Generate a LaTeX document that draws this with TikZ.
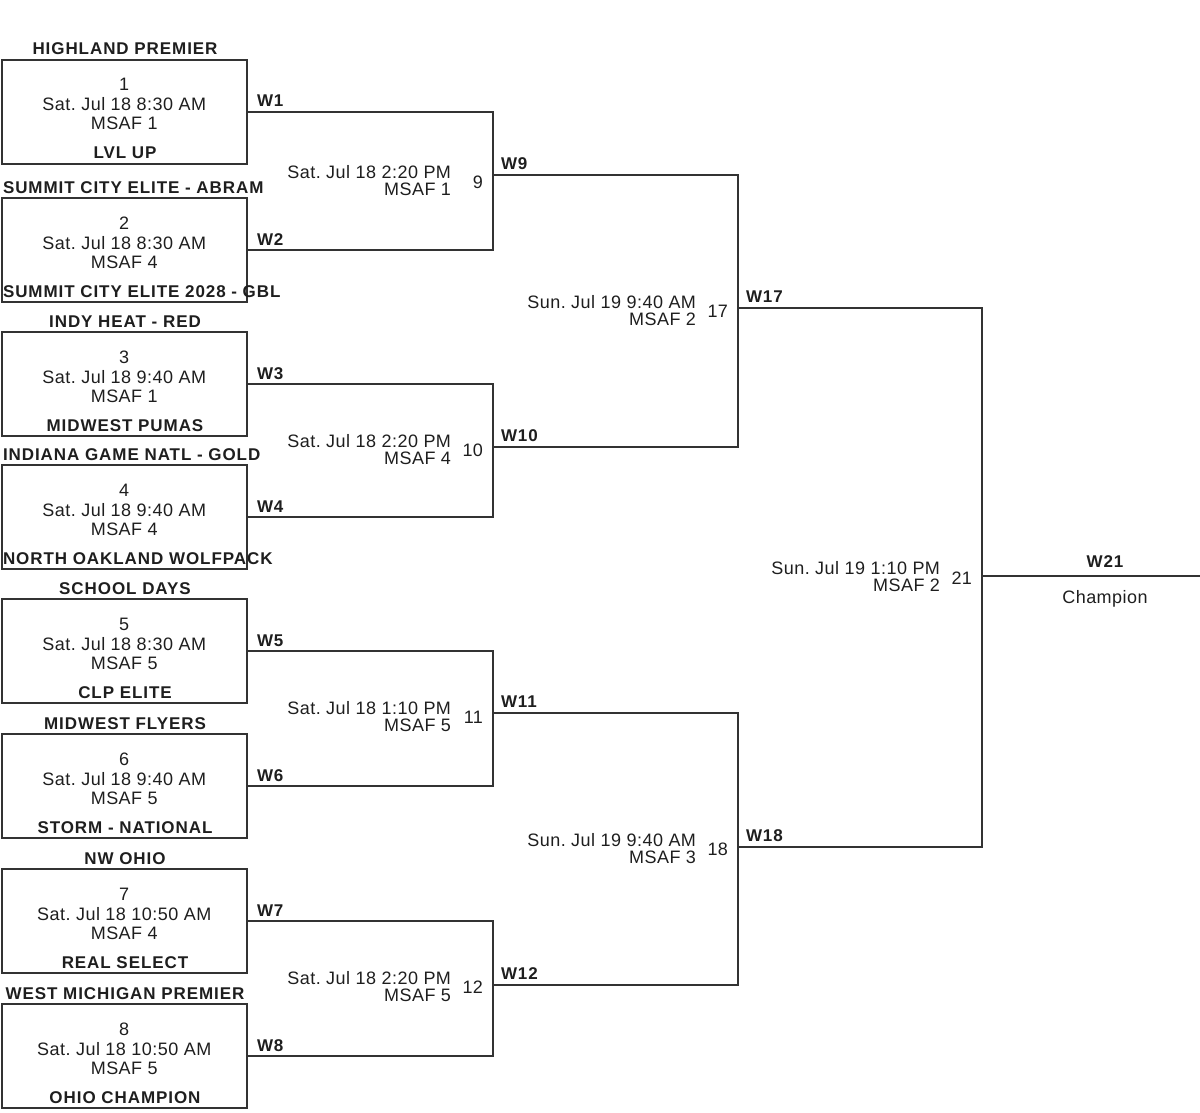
\documentclass[tikz,border=0pt]{standalone}
\usepackage{fontspec}
\setmainfont{Liberation Sans}
\newfontfamily\regfont{Liberation Sans}[LetterSpace=2.6]
\newfontfamily\bldfont{Liberation Sans Bold}[LetterSpace=5.5]
\definecolor{txt}{HTML}{1E1E1E}
\definecolor{ln}{HTML}{333333}
\frenchspacing
\begin{document}
\begin{tikzpicture}[x=1pt,y=-1pt,
  every node/.style={inner sep=0pt, outer sep=0pt, text=txt},
  reg/.style={font=\fontsize{18}{20}\regfont},
  bld/.style={font=\fontsize{17}{20}\bldfont},
  matchbox/.style={draw=ln, line width=2pt, minimum width=245.5pt, minimum height=104pt},
  conn/.style={draw=ln, line width=2pt},
]
\useasboundingbox (0,0) rectangle (1200,1112);

% first-round boxes
\foreach \i/\t/\dt/\fd/\xa/\aa/\ta/\xb/\ab/\tb in {
  1/59.5/Sat. Jul 18 8:30 AM/MSAF 1/125/base/HIGHLAND PREMIER/125/base/LVL UP,
  2/198/Sat. Jul 18 8:30 AM/MSAF 4/3/base west/SUMMIT CITY ELITE - ABRAM/3/base west/SUMMIT CITY ELITE 2028 - GBL,
  3/332/Sat. Jul 18 9:40 AM/MSAF 1/125/base/INDY HEAT - RED/125/base/MIDWEST PUMAS,
  4/465/Sat. Jul 18 9:40 AM/MSAF 4/3/base west/INDIANA GAME NATL - GOLD/3/base west/NORTH OAKLAND WOLFPACK,
  5/599/Sat. Jul 18 8:30 AM/MSAF 5/125/base/SCHOOL DAYS/125/base/CLP ELITE,
  6/734/Sat. Jul 18 9:40 AM/MSAF 5/125/base/MIDWEST FLYERS/125/base/STORM - NATIONAL,
  7/869/Sat. Jul 18 10:50 AM/MSAF 4/125/base/NW OHIO/125/base/REAL SELECT,
  8/1004/Sat. Jul 18 10:50 AM/MSAF 5/125/base/WEST MICHIGAN PREMIER/125/base/OHIO CHAMPION}
{
  \node[matchbox] (m\i) at (124.25,\t+52) {};
  \node[reg, anchor=base] (m\i n) at (124.25,\t+31) {\i};
  \node[reg, anchor=base] (m\i d) at (124.25,\t+51) {\dt};
  \node[reg, anchor=base] (m\i f) at (124.25,\t+70) {\fd};
  \node[bld, anchor=\aa] (m\i a) at (\xa,\t-5) {\ta};
  \node[bld, anchor=\ab] (m\i b) at (\xb,\t+99) {\tb};
  \node[bld, anchor=base west] (w\i) at ([xshift=10pt,yshift=5pt]m\i.east) {W\i};
}

% junction points
\coordinate (j9) at (493,175);
\coordinate (j10) at (493,447);
\coordinate (j11) at (493,713);
\coordinate (j12) at (493,985);
\coordinate (j17) at (738,308);
\coordinate (j18) at (738,847);
\coordinate (j21) at (982,576);
\coordinate (fin) at (1200,576);

% connectors
\draw[conn] (m1.east) -| (j9) |- (m2.east);
\draw[conn] (m3.east) -| (j10) |- (m4.east);
\draw[conn] (m5.east) -| (j11) |- (m6.east);
\draw[conn] (m7.east) -| (j12) |- (m8.east);
\draw[conn] (j9) -| (j17) |- (j10);
\draw[conn] (j11) -| (j18) |- (j12);
\draw[conn] (j17) -| (j21) |- (j18);
\draw[conn] (j21) -- (fin);

% winner labels
\foreach \n in {9,10,11,12,17,18}
  \node[bld, anchor=base west] (w\n) at ([xshift=8pt,yshift=5.5pt]j\n) {W\n};

% match labels
\foreach \n/\vx/\md/\dt/\fd in {
  9/493/181.5/Sat. Jul 18 2:20 PM/MSAF 1,
  10/493/450/Sat. Jul 18 2:20 PM/MSAF 4,
  11/493/717/Sat. Jul 18 1:10 PM/MSAF 5,
  12/493/987/Sat. Jul 18 2:20 PM/MSAF 5,
  17/738/311/Sun. Jul 19 9:40 AM/MSAF 2,
  18/738/849/Sun. Jul 19 9:40 AM/MSAF 3,
  21/982/577.5/Sun. Jul 19 1:10 PM/MSAF 2}
{
  \node[reg, anchor=base east] (g\n d) at (\vx-42,\md-3) {\dt};
  \node[reg, anchor=base east] (g\n f) at (\vx-42,\md+14) {\fd};
  \node[reg, anchor=base east] (g\n n) at (\vx-10,\md+6.5) {\n};
}

\node[bld, anchor=base] (w21) at (1105,567) {W21};
\node[reg, anchor=base] (champ) at (1105,603) {Champion};
\end{tikzpicture}
\end{document}
